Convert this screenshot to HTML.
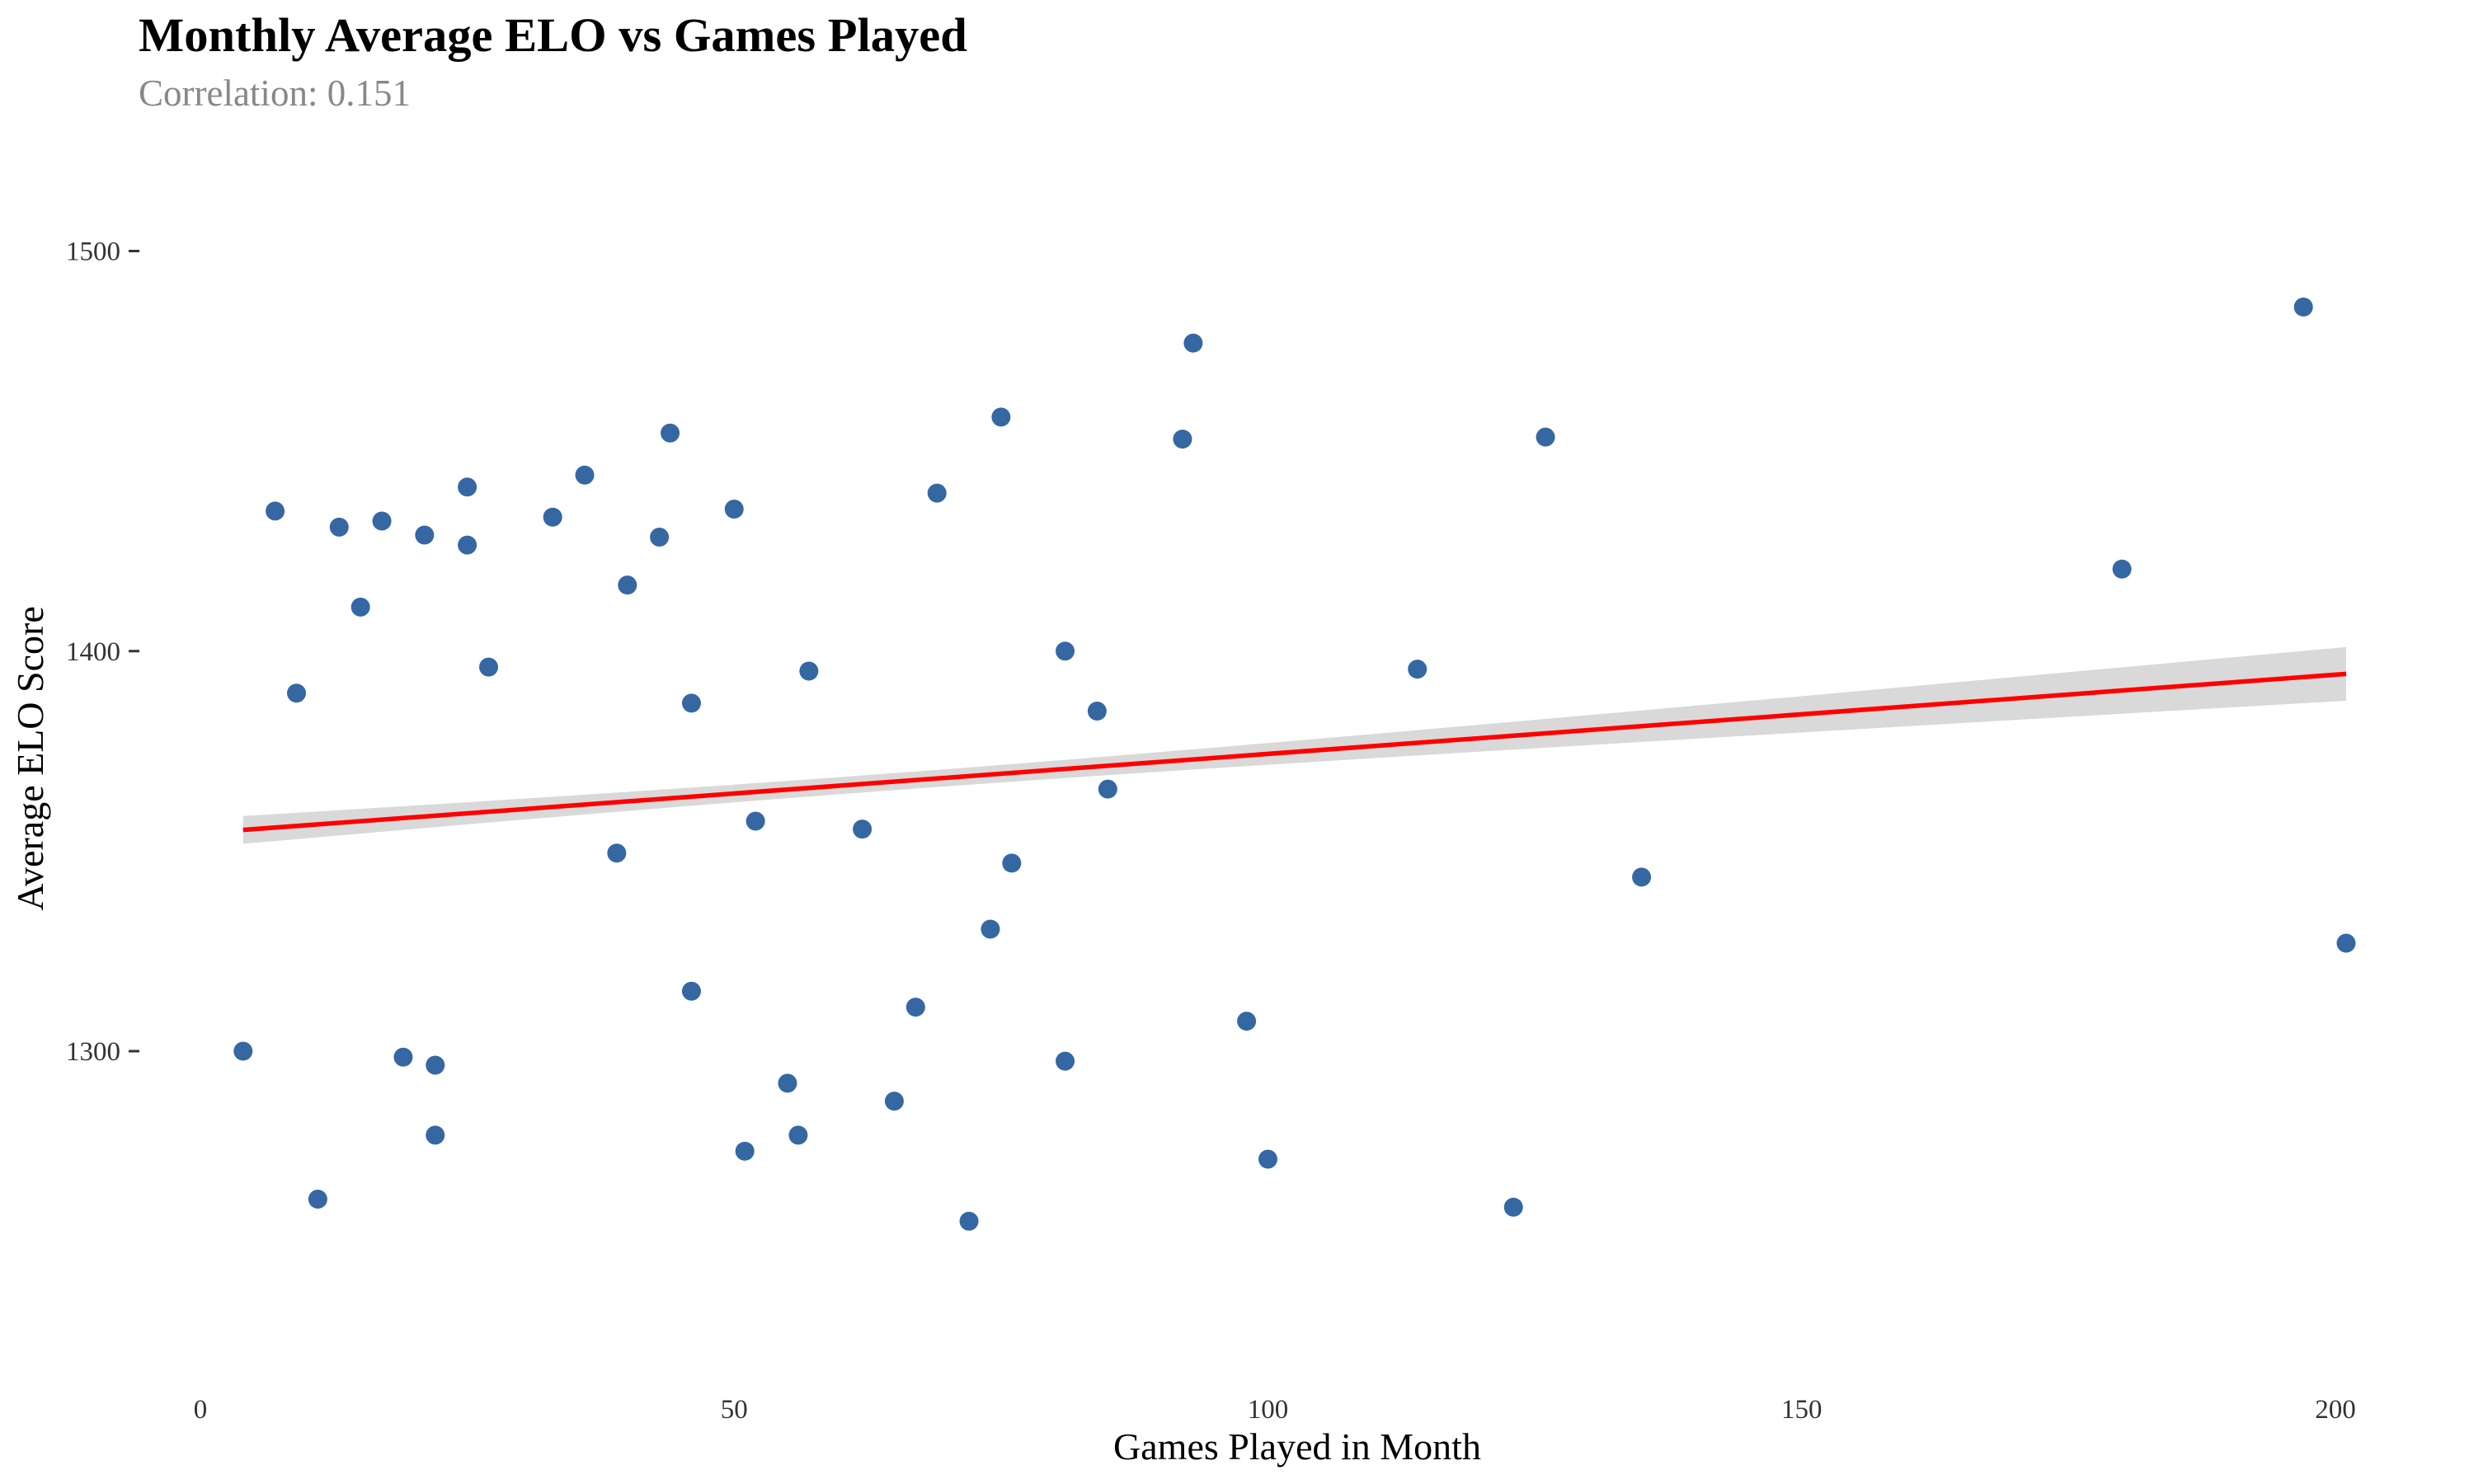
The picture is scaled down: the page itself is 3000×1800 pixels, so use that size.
<!DOCTYPE html>
<html><head><meta charset="utf-8"><style>
html,body{margin:0;padding:0;background:#fff;}
svg{display:block;font-family:"Liberation Serif",serif;}
</style></head><body>
<svg id="chart" width="3000" height="1800" viewBox="0 0 3000 1800" xmlns="http://www.w3.org/2000/svg">
<rect width="3000" height="1800" fill="#fff"/>
<text x="168" y="62" font-size="58.5" font-weight="bold" fill="#000">Monthly Average ELO vs Games Played</text>
<text x="168" y="128" font-size="45" fill="#888">Correlation: 0.151</text>
<text x="1573" y="1770" font-size="46" text-anchor="middle" fill="#000">Games Played in Month</text>
<text transform="translate(52,920) rotate(-90)" font-size="46" text-anchor="middle" fill="#000">Average ELO Score</text>
<g id="band"></g><g id="line"></g><g id="pts"></g><g id="axes"></g>
</svg>
<script>
const gamesPlayed=[4,7,9,11,13,15,17,19,21,22,22,25,25,27,33,36,39,40,43,44,46,46,50,51,52,55,56,57,62,65,67,69,72,74,75,76,81,81,84,85,92,93,98,100,114,123,126,135,180,197,201];
const avgElo=[1300,1435,1389.5,1263,1431,1411,1432.5,1298.5,1429,1296.5,1279,1441,1426.5,1396,1433.5,1444,1349.5,1416.5,1428.5,1454.5,1387,1315,1435.5,1275,1357.5,1292,1279,1395,1355.5,1287.5,1311,1439.5,1257.5,1330.5,1458.5,1347,1400,1297.5,1385,1365.5,1453,1477,1307.5,1273,1395.5,1261,1453.5,1343.5,1420.5,1486,1327];
const trendEnds=[1355.3,1394.3];
const xTicks=[0,50,100,150,200];
const yTicks=[1300,1400,1500];
const NS="http://www.w3.org/2000/svg";
const X=v=>243+v*(2832-243)/200;
const Y=v=>304.5+(1500-v)*(1275-304.5)/200;
function mk(tag,attrs,parent){const e=document.createElementNS(NS,tag);for(const k in attrs)e.setAttribute(k,attrs[k]);document.getElementById(parent).appendChild(e);return e;}
const n=gamesPlayed.length;
const mx=gamesPlayed.reduce((a,b)=>a+b)/n;
let sxx=0;for(let i=0;i<n;i++){sxx+=(gamesPlayed[i]-mx)**2;}
const xmin=Math.min(...gamesPlayed),xmax=Math.max(...gamesPlayed);
const b=(trendEnds[1]-trendEnds[0])/(xmax-xmin),a=trendEnds[0]-b*xmin;
const s=50;
const up=[],lo=[];
for(let k=0;k<=80;k++){const x=xmin+(xmax-xmin)*k/80;const yh=a+b*x;const se=1.96*s*Math.sqrt(1/n+(x-mx)**2/sxx)*0.155;up.push(X(x)+','+Y(yh+se));lo.unshift(X(x)+','+Y(yh-se));}
const band=mk('polygon',{points:up.concat(lo).join(' '),fill:'#d9d9d9'},'band');


const ln=mk('line',{x1:X(xmin),y1:Y(a+b*xmin),x2:X(xmax),y2:Y(a+b*xmax),stroke:'#ff0000','stroke-width':5.5},'line');


for(let i=0;i<n;i++){const c=mk('circle',{cx:X(gamesPlayed[i]),cy:Y(avgElo[i]),r:11.5,fill:'#3567a3'},'pts');

}
xTicks.forEach(t=>{const e=mk('text',{x:X(t),y:1720,'font-size':33,'text-anchor':'middle',fill:'#333'},'axes');e.textContent=t;

});
yTicks.forEach(t=>{const e=mk('text',{x:146,y:Y(t)+11,'font-size':33,'text-anchor':'end',fill:'#333'},'axes');e.textContent=t;


const tk=mk('line',{x1:156,x2:169,y1:Y(t),y2:Y(t),stroke:'#333','stroke-width':3},'axes');

});
</script>
</body></html>
